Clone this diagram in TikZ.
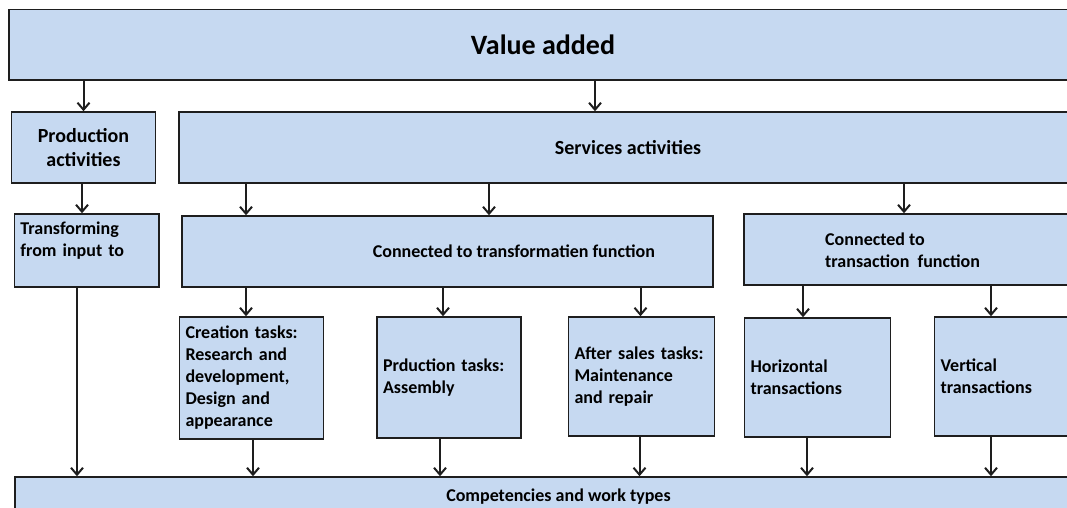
\documentclass[tikz,border=0pt]{standalone}
\usepackage{fontspec}
\setmainfont{Carlito}
\usetikzlibrary{arrows.meta}
\definecolor{boxblue}{RGB}{198,217,241}
\definecolor{boxline}{RGB}{30,30,30}

\tikzset{
  box/.style={draw=boxline, fill=boxblue, line width=1.5pt, inner sep=0pt,
    font=\bfseries\fontsize{18}{22}\selectfont},
  taskbox/.style={box, align=left, inner xsep=6pt, text width=#1},
  lbl/.style={inner sep=0pt, anchor=west, align=left,
    font=\bfseries\fontsize{18}{22}\selectfont},
  arr/.style={draw=boxline, line width=2pt,
    -{Straight Barb[length=7pt,width=12pt,line width=2pt]}},
}

\begin{document}
\begin{tikzpicture}[x=1pt, y=-1pt]
  \path[use as bounding box, clip] (0,0) rectangle (1067,508);

  % boxes
  \node[box, minimum width=1068pt, minimum height=70.5pt,
    font=\bfseries\fontsize{28}{34}\selectfont] (value) at (543,45) {Value added};
  \node[box, minimum width=144pt, minimum height=71pt, align=center,
    font=\bfseries\fontsize{20}{24}\selectfont] (prod) at (83.5,147.5) {Production\\activities};
  \node[box, minimum width=898pt, minimum height=71pt,
    font=\bfseries\fontsize{20}{24}\selectfont] (serv) at (628,147.5) {Services activities};
  \node[taskbox=132.5pt, minimum height=73pt] (trans) at (86.7,250.5) {Transforming\\from input to\\\mbox{}};
  \node[box, minimum width=531pt, minimum height=71pt] (trfun) at (447.5,251.5) {};
  \node[lbl] (trfun-txt) at (372.6,251.5) {Connected to transformatien function};
  \node[box, minimum width=333pt, minimum height=71pt] (trsact) at (910.5,249.5) {};
  \node[lbl] (trsact-txt) at (825,250) {Connected to\\transaction\ \ function};

  \node[taskbox=132pt, minimum height=122pt] (create) at (251.5,378) {Creation tasks:\\Research and\\development,\\Design and\\appearance};
  \node[taskbox=132pt, minimum height=121pt] (prodtask) at (449,377.5) {Prduction tasks:\\Assembly};
  \node[taskbox=134pt, minimum height=119pt] (after) at (641.5,376.5) {After sales tasks:\\Maintenance\\and repair};
  \node[taskbox=134pt, minimum height=119pt] (horiz) at (817.5,377.5) {Horizontal\\transactions};
  \node[taskbox=134pt, minimum height=119pt] (vert) at (1007.5,376.5) {Vertical\\transactions};

  \node[box, minimum width=1087pt, minimum height=40pt] (comp) at (558.5,497) {Competencies and work types};

  % arrows
  \draw[arr] (value.south -| prod) -- (prod.north);
  \draw[arr] (value.south -| 595,0) -- (serv.north -| 595,0);
  \draw[arr] (prod.south -| 82,0) -- (trans.north -| 82,0);
  \foreach \xx in {246,489}
    \draw[arr] (serv.south -| \xx,0) -- (trfun.north -| \xx,0);
  \draw[arr] (serv.south -| 904,0) -- (trsact.north -| 904,0);
  \draw[arr] (trfun.south -| 246,0) -- (create.north -| 246,0);
  \draw[arr] (trfun.south -| 443,0) -- (prodtask.north -| 443,0);
  \draw[arr] (trfun.south -| 640.5,0) -- (after.north -| 640.5,0);
  \draw[arr] (trsact.south -| 803,0) -- (horiz.north -| 803,0);
  \draw[arr] (trsact.south -| 991,0) -- (vert.north -| 991,0);
  \draw[arr] (trans.south -| 77,0) -- (comp.north -| 77,0);
  \draw[arr] (create.south -| 253,0) -- (comp.north -| 253,0);
  \draw[arr] (prodtask.south -| 440,0) -- (comp.north -| 440,0);
  \draw[arr] (after.south -| 639.5,0) -- (comp.north -| 639.5,0);
  \draw[arr] (horiz.south -| 807,0) -- (comp.north -| 807,0);
  \draw[arr] (vert.south -| 991,0) -- (comp.north -| 991,0);
\end{tikzpicture}
\end{document}
